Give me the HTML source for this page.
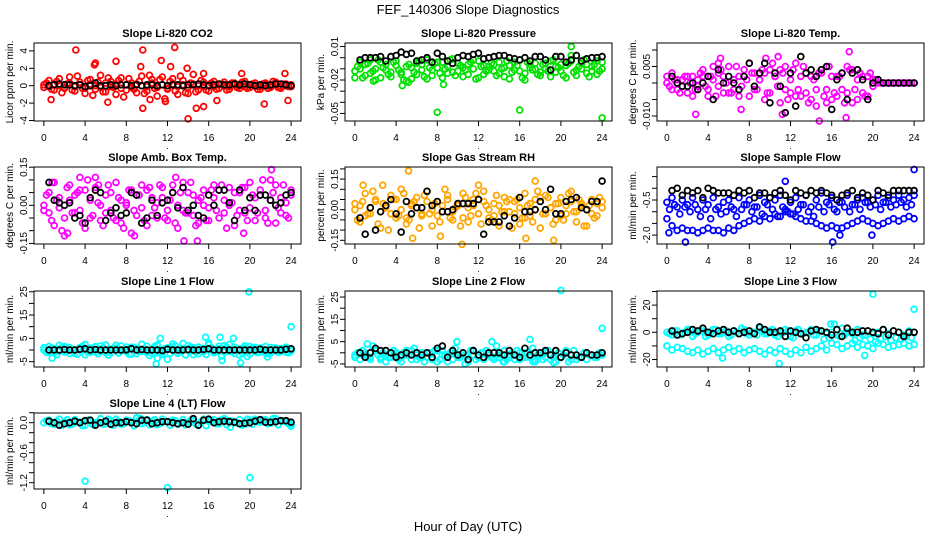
<!DOCTYPE html>
<html><head><meta charset="utf-8"><title>FEF_140306 Slope Diagnostics</title>
<style>
html,body{margin:0;padding:0;background:#fff;}
svg{display:block;font-family:"Liberation Sans",Arial,sans-serif;}
</style></head>
<body>
<svg id="chart" width="936" height="540" viewBox="0 0 936 540">
<text x="468" y="14" text-anchor="middle" font-size="13">FEF_140306  Slope Diagnostics</text>
<text x="468" y="531" text-anchor="middle" font-size="13">Hour of Day (UTC)</text>
</svg>
<script>
// shared hour categories
const hA=[0,0.5,1,1.5,2,2.5,3,3.5,4,4.5,5,5.5,6,6.5,7,7.5,8,8.5,9,9.5,10,10.5,11,11.5,12,12.5,13,13.5,14,14.5,15,15.5,16,16.5,17,17.5,18,18.5,19,19.5,20,20.5,21,21.5,22,22.5,23,23.5,24];
const hB=[0.25,0.75,1.25,1.75,2.25,2.75,3.25,3.75,4.25,4.75,5.25,5.75,6.25,6.75,7.25,7.75,8.25,8.75,9.25,9.75,10.25,10.75,11.25,11.75,12.25,12.75,13.25,13.75,14.25,14.75,15.25,15.75,16.25,16.75,17.25,17.75,18.25,18.75,19.25,19.75,20.25,20.75,21.25,21.75,22.25,22.75,23.25,23.75];
const hK=[0.5,1,1.5,2,2.5,3,3.5,4,4.5,5,5.5,6,6.5,7,7.5,8,8.5,9,9.5,10,10.5,11,11.5,12,12.5,13,13.5,14,14.5,15,15.5,16,16.5,17,17.5,18,18.5,19,19.5,20,20.5,21,21.5,22,22.5,23,23.5,24];
const xTicks=[0,4,8,12,16,20,24];

// Panel 1: CO2
const p1C1=[-0.2,0.6,-0.5,0.8,-0.3,1.0,-0.6,0.4,-0.9,0.7,-0.4,1.2,-0.7,0.5,-1.0,0.9,-0.5,0.3,-0.8,1.1,-0.6,0.7,-1.2,1.0,-0.4,0.8,-1.0,0.6,-0.9,1.3,-0.5,0.4,-0.6,0.5,-0.3,0.4,-0.4,0.3,-0.3,0.5,-0.2,0.3,-0.4,0.3,-0.2,0.4,-0.3,0.2,-0.1];
const p1C2=[0.3,-0.4,0.5,-0.8,0.2,-0.5,1.1,-0.3,0.6,-1.1,0.4,-0.7,0.9,-0.2,0.6,-1.3,0.8,-0.4,0.5,-0.9,1.2,-0.3,0.7,-1.5,0.5,-0.6,1.1,-0.8,0.3,-0.7,0.6,-0.5,0.3,-0.4,0.2,-0.5,0.3,-0.2,0.4,-0.3,0.2,-0.4,0.2,-0.3,0.5,-0.2,0.2,-0.1];
const p1C3=[0.1,-0.1,0.2,0.0,-0.2,0.3,-0.1,0.1,-0.3,0.2,0.0,-0.2,0.3,-0.1,0.2,-0.3,0.1,-0.2,0.2,0.0,-0.1,0.3,-0.2,0.1,-0.3,0.2,-0.1,0.1,-0.2,0.2,0.0,-0.1,0.1,-0.1,0.1,0.0,-0.1,0.1,0.0,-0.1,0.1,0.0,-0.1,0.1,0.0,0.1,-0.1,0.0,0.1];
const p1K=[0.0,0.1,0.2,0.1,0.1,0.0,0.1,-0.1,0.0,0.3,0.0,0.0,0.1,0.0,0.1,0.1,0.0,0.1,0.0,0.1,0.1,0.0,0.1,0.0,0.1,0.1,0.0,0.1,0.1,0.2,0.1,0.0,0.1,0.2,0.1,0.1,0.2,0.1,0.2,0.1,0.0,0.1,0.0,0.1,0.2,0.2,0.1,0.0];
const p1OutH=[3.1,9.6,12.7,7,11.4,4.9,5,9.4,13.9,12.3,0.7,9.6,14,14.8,15.5,16.8,21.4,23.7,6.2,10.3,11.8,23.4,19.2,15.5];
const p1OutV=[4.1,4.1,4.4,2.8,2.9,2.4,2.6,2.2,2.0,2.2,-1.6,-2.6,-3.8,-2.6,-2.4,-1.7,-2.1,-1.7,-1.9,-1.6,-1.8,1.4,1.4,1.4];
const p1YT=[-4,-2,0,2,4];
const p1YL=["-4","-2","0","2","4"];

// Panel 2: Pressure
const p2C1=[-0.012,-0.004,-0.016,-0.002,-0.010,-0.018,-0.006,-0.013,-0.003,-0.015,-0.008,-0.019,-0.005,-0.011,-0.002,-0.016,-0.009,-0.004,-0.014,-0.001,-0.012,-0.017,-0.006,-0.010,-0.003,-0.015,-0.008,-0.012,-0.004,-0.017,-0.007,-0.011,-0.002,-0.014,-0.009,-0.005,-0.016,-0.010,-0.003,-0.013,-0.006,-0.018,0.002,-0.011,-0.005,-0.014,-0.008,-0.003,-0.010];
const p2C2=[-0.008,-0.018,-0.005,-0.012,-0.002,-0.009,-0.015,-0.004,-0.011,-0.020,-0.006,-0.013,-0.003,-0.017,-0.009,-0.005,-0.014,-0.010,-0.002,-0.016,-0.007,-0.011,-0.004,-0.019,-0.008,-0.012,-0.005,-0.016,-0.010,-0.003,-0.013,-0.007,-0.018,-0.004,-0.011,-0.015,-0.006,-0.012,-0.002,-0.009,-0.016,-0.005,-0.013,-0.008,-0.002,-0.017,-0.006,-0.012];
const p2C3=[-0.018,-0.010,-0.006,-0.014,-0.020,-0.004,-0.011,-0.017,-0.007,-0.013,-0.021,-0.009,-0.015,-0.006,-0.019,-0.011,-0.004,-0.018,-0.008,-0.013,-0.005,-0.009,-0.015,-0.002,-0.018,-0.007,-0.011,-0.006,-0.014,-0.009,-0.019,-0.004,-0.012,-0.020,-0.006,-0.010,-0.013,-0.005,-0.017,-0.008,-0.012,-0.007,-0.003,-0.016,-0.010,-0.006,-0.012,-0.015,-0.004];
const p2K=[-0.002,0.000,0.000,0.000,0.001,-0.003,0.001,0.002,0.005,0.003,0.004,-0.003,-0.002,0.000,-0.004,0.004,0.001,-0.003,-0.005,0.000,0.002,0.001,0.003,0.004,-0.001,0.000,0.001,0.002,0.002,0.000,-0.001,-0.002,0.000,-0.003,0.001,0.001,-0.002,-0.011,0.001,0.001,-0.004,-0.002,0.002,-0.003,-0.001,0.000,0.000,0.001];
const p2OutH=[8,16,24,4.6,8.6,21,1.8,5.2];
const p2OutV=[-0.049,-0.047,-0.054,-0.025,-0.024,0.010,-0.021,-0.022];
const p2YT=[0.01,0,-0.01,-0.02,-0.03,-0.04,-0.05];
const p2YL=["0.01","","","-0.02","","","-0.05"];

// Panel 3: Li-820 Temp
const p3C1=[0,0.003,-0.002,0.001,-0.003,0.002,-0.001,0.004,-0.004,0.001,0.003,-0.003,0.005,-0.002,0.002,0.004,-0.004,0.003,0.001,-0.005,0.004,0.002,-0.006,0.005,-0.003,0.006,-0.004,0.003,-0.005,-0.002,0.004,-0.006,0.002,-0.004,0.003,-0.003,0.004,-0.005,0.002,-0.004,0.001,0,0,0,0,0,0,0,0];
const p3C2=[-0.001,0.001,-0.003,0.002,0.000,-0.002,0.003,-0.001,0.002,-0.004,0.004,0.000,-0.003,0.005,-0.001,0.001,0.003,-0.002,0.004,-0.003,0.006,-0.001,0.003,-0.005,0.004,-0.002,0.005,-0.006,0.001,0.003,-0.004,0.005,-0.003,0.002,-0.006,0.004,-0.002,0.003,-0.004,0.003,0.001,0.000,0.000,0.000,0.000,0.000,0.000,0.000];
const p3C3=[0.002,-0.002,0.001,-0.001,0.002,-0.004,0.001,0.002,-0.002,0.005,-0.001,0.002,-0.003,0.001,-0.004,0.002,0.006,-0.002,0.001,0.003,-0.003,0.002,0.004,-0.002,0.001,-0.004,0.002,-0.003,0.002,-0.007,0.003,-0.002,-0.005,0.002,-0.002,0.005,-0.006,0.001,-0.003,0.002,-0.001,0.001,0,0,0,0,0,0,0];
const p3K=[0.002,0,-0.001,-0.001,0,-0.002,0,0.002,-0.005,0.004,0,0.002,0,-0.002,0.002,0.006,-0.001,0.003,0.006,-0.006,0.003,-0.001,-0.009,0.003,-0.007,0.008,0.003,0.004,0.002,0.004,0.005,-0.008,0.001,0.003,-0.005,0.003,0.004,0.001,-0.005,0,0.001,0,0,0,0,0,0,0];
const p3OutH=[2.8,5.2,9.6,10.8,14.8,17.4,17.7,11.2,5.0,7.2];
const p3OutV=[-0.0095,0.0075,0.0075,0.008,-0.0115,-0.0105,0.0095,-0.0095,0.006,-0.008];
const p3YT=[0.01,0.005,0,-0.005,-0.01];
const p3YL=["","0.005","","","-0.010"];

// Panel 4: Amb. Box Temp
const p4C1=[-0.02,0.05,-0.08,0.03,-0.05,0.08,-0.03,0.06,-0.09,0.02,0.07,-0.06,0.04,-0.02,0.09,-0.07,0.01,0.06,-0.04,0.08,-0.08,0.03,-0.05,0.07,-0.02,0.05,-0.09,0.09,-0.03,0.04,-0.07,0.06,-0.01,0.08,-0.05,0.02,0.07,-0.08,0.05,-0.03,0.09,-0.06,0.04,-0.02,0.10,-0.07,0.03,-0.04,0.06];
const p4C2=[0.04,-0.06,0.02,-0.10,0.07,-0.03,0.05,-0.07,0.10,-0.04,0.01,-0.08,0.08,-0.05,0.03,-0.09,0.06,-0.02,0.04,-0.06,0.07,-0.01,0.08,-0.05,0.02,-0.07,0.05,-0.03,0.09,-0.08,0.03,-0.06,0.06,-0.02,0.08,-0.09,0.01,-0.04,0.07,-0.06,0.04,-0.03,0.10,-0.07,0.05,-0.01,0.08,-0.05];
const p4C3=[0.00,-0.03,0.09,-0.01,-0.12,0.02,0.04,-0.02,0.06,-0.05,0.11,0.00,-0.03,0.05,-0.06,0.02,0.00,-0.11,0.04,-0.01,0.06,-0.04,0.01,0.03,-0.06,0.08,0.00,-0.02,0.05,-0.04,0.02,0.00,-0.06,0.03,0.06,-0.03,0.00,0.05,-0.02,0.07,-0.01,0.03,0.06,-0.05,0.02,0.08,-0.03,0.01,0.04];
const p4K=[0.09,0.02,0.01,0.00,0.01,-0.05,-0.04,-0.07,0.03,0.06,0.05,-0.06,-0.03,-0.01,-0.04,-0.03,0.05,0.04,-0.07,-0.05,0.02,-0.04,0.01,0.02,0.05,-0.01,0.07,-0.02,0.00,-0.04,-0.05,0.04,0.00,0.06,0.06,0.01,-0.06,0.06,-0.02,0.03,-0.02,0.04,0.04,0.02,0.00,0.01,0.04,0.05];
const p4OutH=[3.5,13.6,14.9,2.3,8.8,19.4,22.1,0.8,5.3,12.8];
const p4OutV=[0.11,-0.14,-0.14,-0.11,-0.12,-0.11,0.14,0.09,0.08,0.11];
const p4YT=[0.15,0.1,0.05,0,-0.05,-0.1,-0.15];
const p4YL=["0.15","","","0.00","","","-0.15"];

// Panel 5: Gas Stream RH
const p5C1=[0.03,-0.06,0.08,-0.02,0.05,-0.09,0.01,0.07,-0.04,0.10,-0.07,0.02,0.06,-0.03,0.09,-0.08,0.04,-0.01,0.07,-0.05,0.02,0.08,-0.06,0.05,-0.02,0.09,-0.04,0.03,-0.08,0.06,-0.01,0.04,-0.07,0.08,-0.03,0.05,-0.09,0.07,0.01,-0.05,0.06,-0.02,0.09,-0.06,0.03,-0.08,0.05,-0.03,0.04];
const p5C2=[-0.05,0.04,-0.02,0.09,-0.07,0.03,-0.10,0.05,-0.03,0.08,-0.05,0.04,-0.09,0.07,-0.02,0.03,-0.06,0.10,-0.04,0.01,-0.08,0.06,-0.03,0.08,-0.07,0.02,-0.05,0.07,-0.01,0.04,-0.09,0.05,-0.04,0.02,-0.06,0.09,-0.02,0.06,-0.07,0.03,-0.05,0.08,-0.01,0.05,-0.08,0.02,-0.04,0.06];
const p5C3=[0.00,0.02,-0.03,0.01,0.04,-0.01,0.02,-0.02,0.05,0.00,-0.04,0.03,0.01,-0.02,0.04,0.00,-0.03,0.02,0.05,-0.01,0.03,-0.04,0.01,0.02,-0.02,0.04,0.00,-0.03,0.02,-0.01,0.05,-0.02,0.01,-0.04,0.03,0.00,0.06,-0.02,0.01,0.03,-0.03,0.02,0.04,-0.01,0.02,0.00,-0.02,0.03,0.01];
const p5K=[-0.04,-0.12,0.01,-0.10,-0.01,0.02,0.05,-0.02,-0.11,0.04,-0.02,0.01,0.01,0.09,0.02,0.04,-0.01,-0.01,0.00,0.03,0.03,0.03,0.03,0.05,-0.12,-0.06,-0.06,-0.06,-0.03,-0.08,-0.04,0.06,-0.01,-0.01,0.00,0.04,0.00,0.10,-0.02,-0.02,0.04,0.05,0.06,0.01,0.00,0.04,0.04,0.14];
const p5OutH=[5.2,0.8,2.7,10.4,16.6,19.3,12.0,8.3,5.6,17.5];
const p5OutV=[0.19,0.12,0.12,-0.17,-0.14,-0.15,0.12,-0.13,-0.14,0.14];
const p5YT=[0.2,0.15,0.1,0.05,0,-0.05,-0.1,-0.15];
const p5YL=["","0.15","","","0.00","","","-0.15"];

// Panel 6: Sample Flow
const p6C1=[-0.6,-0.4,-0.8,-0.5,-0.7,-0.4,-0.9,-0.5,-0.7,-0.4,-0.8,-0.6,-0.5,-0.9,-0.4,-0.7,-0.5,-0.8,-0.3,-0.6,-0.4,-0.5,-0.3,-0.9,-0.6,-0.4,-0.7,-0.3,-0.8,-0.5,-0.2,-0.6,-0.4,-1.0,-0.6,-0.3,-0.7,-0.5,-0.4,-0.6,-0.5,-0.3,-0.6,-0.4,-0.5,-0.3,-0.5,-0.4,-0.3];
const p6C2=[-0.9,-0.7,-1.1,-0.8,-1.0,-0.7,-1.2,-0.9,-1.3,-0.9,-1.1,-1.0,-0.8,-1.2,-0.9,-0.7,-1.0,-0.8,-1.1,-0.7,-0.9,-1.2,-0.8,-1.0,-1.1,-0.9,-0.7,-1.0,-1.2,-0.8,-1.0,-0.7,-0.9,-0.6,-0.8,-1.0,-0.7,-0.9,-0.6,-0.8,-0.7,-0.9,-0.6,-0.8,-0.7,-0.6,-0.8,-0.7];
const p6C3=[-1.3,-1.6,-1.8,-1.7,-1.8,-1.8,-1.9,-1.8,-1.7,-1.8,-1.8,-1.9,-1.7,-1.8,-1.6,-1.5,-1.4,-1.3,-1.4,-1.2,-1.3,-1.1,-1.2,-1.0,-1.1,-1.2,-1.3,-1.4,-1.4,-1.5,-1.6,-1.7,-1.6,-1.7,-1.7,-1.6,-1.5,-1.4,-1.3,-1.4,-1.5,-1.6,-1.5,-1.4,-1.3,-1.4,-1.3,-1.2,-1.3];
const p6K=[-0.1,0.0,-0.3,-0.1,-0.2,-0.1,-0.4,0.0,-0.1,-0.2,-0.2,-0.2,-0.3,-0.1,-0.2,-0.1,-0.4,-0.2,-0.2,-0.4,-0.2,-0.1,-0.3,-0.5,-0.1,-0.2,-0.3,-0.1,-0.2,-0.1,-0.2,-0.3,-0.5,-0.3,-0.2,-0.1,-0.4,-0.2,-0.3,-0.5,-0.1,-0.2,-0.3,-0.1,-0.1,-0.1,-0.1,-0.1];
const p6OutH=[1.8,16.1,19.9,16.8,24,11.5,0.2];
const p6OutV=[-2.3,-2.3,-2.0,-2.0,0.8,0.3,-1.9];
const p6YT=[0.5,0,-0.5,-1,-1.5,-2];
const p6YL=["","","-0.5","","","-2.0"];

// Panel 7: Line 1 Flow
const p7C1=[0,1.5,-1.2,2,-0.8,1.1,-1.5,0.6,2.3,-1.0,1.4,-0.5,2.1,-1.3,0.8,1.7,-0.7,1.2,-1.6,2.5,-1.1,0.4,1.8,-1.9,0.9,2.6,-1.4,0.7,1.9,-2.0,1.3,-0.6,2.2,-1.2,1.6,-0.9,2.4,-1.5,0.5,1.8,-1.7,1.1,-0.8,1.5,-1.2,0.9,-0.6,1.2,-0.4];
const p7C2=[-1.0,0.8,-2.0,1.2,-0.5,0.3,-1.8,1.6,-0.9,0.5,-1.6,1.0,-2.2,0.7,-1.3,0.2,-1.7,1.1,-0.6,0.4,-2.4,1.5,-1.0,0.6,-1.5,1.9,-0.3,-2.1,1.2,-0.8,0.4,-1.9,1.0,-0.5,-2.6,1.3,-0.7,0.2,-1.4,-2.8,0.8,-1.1,0.3,-1.6,0.6,-1.0,0.5,-1.2];
const p7C3=[1,-1,0.5,-0.5,1.5,-1.5,0,1,-2,0.8,-0.8,1.8,-1.2,0.3,2,-0.3,1.3,-1.8,0.6,-0.6,1.6,-1.4,2.2,-0.9,0.2,1.4,-1.1,2.8,-0.4,1,-1.6,0.7,3,-1,0.4,1.9,-0.7,1.2,-2.2,0.9,1.5,-0.5,0.8,-1.3,1.1,-0.2,0.6,-0.9,0.3];
const p7K=[0,0,0,0.2,0,0,0.3,0.5,0,0.2,0,0,0,0,0,0.1,0.5,0,0.2,0,0,0,-0.2,0.3,0,0,0,0.2,0,0,0.2,0.5,0,0,0,0,0,0,0,0,0,0.3,0,0,0,0,0.3,0.5];
const p7OutH=[19.9,24,10.9,11,19.1,12,0.8,15.7,17.1,17.3,18.4,21.7,11.3];
const p7OutV=[25,10,-6,-3.5,-5.5,-4,-3.5,5.5,5.5,-4.5,5,-3,5];
const p7YT=[25,20,15,10,5,0,-5];
const p7YL=["25","","15","","5","","-5"];

// Panel 8: Line 2 Flow
const p8C1=[-1,-3,0,-2,1,-3,-1,-2,0,-4,-1,1,-3,-2,0,-2,-4,1,-1,-3,-2,0,-4,-1,-2,-3,0,-2,-1,-4,-1,-3,0,-2,-1,-3,0,-2,-1,-4,-2,0,-3,-1,-2,-3,-1,-2,-1];
const p8C2=[0,1,-2,3,-1,0,-2,1,-3,0,-1,2,-2,-4,0,1,-3,-1,0,2,-2,-1,1,-3,0,1,-2,3,-1,-3,0,1,-2,0,2,-1,-3,1,-2,0,-1,-4,1,-2,0,-1,-2,0];
const p8C3=[-2,0,-1,-3,1,-2,-4,0,-1,-2,1,-3,-1,0,-2,-3,1,-1,-4,0,-2,-1,-3,1,-2,0,-1,-3,-2,1,-2,-1,-3,0,-2,-4,-1,0,-3,-1,-2,1,-1,-3,-2,0,-1,-2,-1];
const p8K=[0,-2,0,2,1,1,0,-2,-1,0,-1,0,-1,0,-2,2,3,-2,1,-1,0,-3,1,-1,-2,0,0,0,-1,1,-1,-2,2,-1,0,0,1,-1,1,-2,0,-1,-1,-2,0,-1,-1,0];
const p8OutH=[20,24,1.2,10.7,14.4,17.0,17.3,19.3,13.3,9.9];
const p8OutV=[28,11,4,-5,-4,6,-4,-4.5,5,5];
const p8YT=[25,20,15,10,5,0,-5];
const p8YL=["25","","15","","5","","-5"];

// Panel 9: Line 3 Flow
const p9C1=[0,-2,1,-1,2,-3,0,1,-2,2,-1,0,-3,1,-1,2,-2,0,3,-1,1,-2,0,2,-3,1,-1,0,2,-2,1,-1,0,-2,3,0,-1,2,-2,1,-1,0,2,-1,1,0,-2,1,0];
const p9C2=[-1,1,-2,0,2,-1,1,-3,0,2,-1,1,-2,0,3,-1,0,-2,1,-1,2,-3,0,1,-4,2,-1,0,-2,1,-5,-4,6,-3,-2,0,-6,-4,-2,-5,-7,-5,-3,-6,-4,-5,-3,-4];
const p9C3=[-10,-13,-11,-12,-14,-15,-13,-16,-14,-12,-15,-13,-11,-14,-12,-15,-13,-12,-14,-16,-13,-15,-12,-14,-16,-13,-15,-11,-14,-12,-10,-13,-8,-9,-12,-10,-8,-11,-9,-10,-12,-8,-9,-11,-10,-9,-8,-10,-9];
const p9K=[1,-2,-1,0,2,1,3,0,-1,1,2,0,1,-1,0,1,-1,4,2,0,0,1,-3,1,0,-1,-4,1,2,1,0,-2,2,-3,3,0,0,1,1,0,-1,2,-2,1,0,-3,0,0];
const p9OutH=[20,24,10.9,5.4,19.2,15.9];
const p9OutV=[28,17,-23,-19,-17,6];
const p9YT=[30,20,10,0,-10,-20];
const p9YL=["","20","","0","","-20"];

// Panel 10: Line 4 (LT) Flow
const p10C1=[0.0,0.05,-0.03,0.07,0.02,-0.04,0.06,0.01,-0.05,0.05,0.00,0.08,-0.02,0.04,0.07,-0.03,0.05,0.01,0.09,-0.02,0.06,0.03,-0.04,0.07,0.02,0.05,-0.03,0.06,0.00,0.04,-0.05,0.07,0.03,0.06,-0.02,0.08,0.04,0.00,0.06,-0.03,0.05,0.07,0.01,0.06,-0.01,0.08,0.04,0.02,-0.03];
const p10C2=[0.04,-0.02,0.03,-0.05,0.06,-0.03,0.02,-0.06,0.05,-0.04,0.01,-0.03,0.07,-0.05,0.03,-0.02,0.04,-0.06,0.05,0.00,-0.04,0.06,-0.02,0.03,-0.05,0.04,0.01,-0.04,0.05,-0.03,0.02,-0.06,0.04,-0.02,0.06,-0.04,0.03,0.00,-0.05,0.07,-0.03,0.02,0.05,-0.02,0.08,-0.04,0.03,-0.02];
const p10C3=[];
const p10K=[0.03,0.00,-0.05,-0.02,0.00,0.03,0.00,0.04,0.05,-0.05,0.00,0.03,-0.03,0.00,0.00,0.02,0.00,-0.02,0.05,0.05,-0.02,0.00,0.02,0.02,0.00,-0.02,0.00,-0.03,0.08,-0.05,0.05,0.07,0.00,0.02,0.03,0.02,0.01,-0.02,-0.01,0.00,0.03,0.06,0.01,0.01,0.02,0.04,0.04,0.01];
const p10OutH=[4,12,20,9,18.1,24,9.4];
const p10OutV=[-1.17,-1.3,-1.1,0.1,-0.09,-0.07,0.08];
const p10YT=[0.2,0,-0.2,-0.4,-0.6,-0.8,-1.0,-1.2];
const p10YL=["","0.0","","","-0.6","","","-1.2"];

const NS="http://www.w3.org/2000/svg";
const svg=document.getElementById('chart');
function mk(tag,attrs,parent){const e=document.createElementNS(NS,tag);for(const k in attrs)e.setAttribute(k,attrs[k]);(parent||svg).appendChild(e);return e;}

const panels=[
 {id:'co2',title:'Slope Li-820 CO2',ylab:'Licor ppm per min.',L:34,T:43,B:121,zero:85.7,ppu:8.7,col:'#ff0000',c1:p1C1,c2:p1C2,c3:p1C3,k:p1K,oh:p1OutH,ov:p1OutV,yt:p1YT,yl:p1YL},
 {id:'pressure',title:'Slope Li-820 Pressure',ylab:'kPa per min.',L:345,T:43,B:121,zero:57.7,ppu:1115,col:'#00e000',c1:p2C1,c2:p2C2,c3:p2C3,k:p2K,oh:p2OutH,ov:p2OutV,yt:p2YT,yl:p2YL},
 {id:'li820-temp',title:'Slope Li-820 Temp.',ylab:'degrees C per min.',L:657,T:43,B:121,zero:83,ppu:3300,col:'#ff00ff',c1:p3C1,c2:p3C2,c3:p3C3,k:p3K,oh:p3OutH,ov:p3OutV,yt:p3YT,yl:p3YL},
 {id:'amb-box-temp',title:'Slope Amb. Box Temp.',ylab:'degrees C per min.',L:34,T:167,B:244,zero:205.3,ppu:254,col:'#ff00ff',c1:p4C1,c2:p4C2,c3:p4C3,k:p4K,oh:p4OutH,ov:p4OutV,yt:p4YT,yl:p4YL},
 {id:'gas-stream-rh',title:'Slope Gas Stream RH',ylab:'percent per min.',L:345,T:167,B:244,zero:209.7,ppu:204,col:'#ffa500',c1:p5C1,c2:p5C2,c3:p5C3,k:p5K,oh:p5OutH,ov:p5OutV,yt:p5YT,yl:p5YL},
 {id:'sample-flow',title:'Slope Sample Flow',ylab:'ml/min per min.',L:657,T:167,B:244,zero:188.3,ppu:23.4,col:'#0000ff',c1:p6C1,c2:p6C2,c3:p6C3,k:p6K,oh:p6OutH,ov:p6OutV,yt:p6YT,yl:p6YL},
 {id:'line1-flow',title:'Slope Line 1 Flow',ylab:'ml/min per min.',L:34,T:291,B:367,zero:350,ppu:2.33,col:'#00ffff',c1:p7C1,c2:p7C2,c3:p7C3,k:p7K,oh:p7OutH,ov:p7OutV,yt:p7YT,yl:p7YL},
 {id:'line2-flow',title:'Slope Line 2 Flow',ylab:'ml/min per min.',L:345,T:291,B:367,zero:352.8,ppu:2.23,col:'#00ffff',c1:p8C1,c2:p8C2,c3:p8C3,k:p8K,oh:p8OutH,ov:p8OutV,yt:p8YT,yl:p8YL},
 {id:'line3-flow',title:'Slope Line 3 Flow',ylab:'ml/min per min.',L:657,T:291,B:367,zero:332.3,ppu:1.36,col:'#00ffff',c1:p9C1,c2:p9C2,c3:p9C3,k:p9K,oh:p9OutH,ov:p9OutV,yt:p9YT,yl:p9YL},
 {id:'line4-flow',title:'Slope Line 4 (LT) Flow',ylab:'ml/min per min.',L:34,T:413,B:489,zero:422.7,ppu:50,col:'#00ffff',c1:p10C1,c2:p10C2,c3:p10C3,k:p10K,oh:p10OutH,ov:p10OutV,yt:p10YT,yl:p10YL}
];
const W=267;

panels.forEach(p=>{
  const g=mk('g',{});
  
  
  const xs=h=>p.L+W*(h+0.96)/25.92;
  const ys=v=>p.zero-v*p.ppu;
  const cx=p.L+W/2;
  const t=mk('text',{x:cx,y:p.T-6,'text-anchor':'middle','font-size':'11','font-weight':'bold'},g);
  t.textContent=p.title;
  
  
  const pts=mk('g',{fill:'none','stroke-width':'1.8'},g);
  
  
  function series(hs,vs,color,name){
    const n=Math.min(hs.length,vs.length);
    for(let i=0;i<n;i++){
      const c=mk('circle',{cx:xs(hs[i]).toFixed(1),cy:ys(vs[i]).toFixed(1),r:'2.9',stroke:color},pts);
      
      
    }
  }
  series(hA,p.c1,p.col,'slope-point');
  series(hB,p.c2,p.col,'slope-point');
  series(hA,p.c3,p.col,'slope-point');
  series(p.oh,p.ov,p.col,'outlier-point');
  series(hK,p.k,'#000000','mean-point');
  const r=mk('rect',{x:p.L,y:p.T,width:W,height:p.B-p.T,fill:'none',stroke:'#000','stroke-width':'1'},g);
  
  
  xTicks.forEach(h=>{
    const x=xs(h);
    mk('line',{x1:x,x2:x,y1:p.B,y2:p.B+5,stroke:'#000'},g);
    const tl=mk('text',{x:x,y:p.B+20,'text-anchor':'middle','font-size':'10'},g);
    tl.textContent=String(h);
    
    
  });
  const dot=mk('text',{x:cx,y:p.B+28,'text-anchor':'middle','font-size':'9'},g);
  dot.textContent='.';
  p.yt.forEach((v,i)=>{
    const y=ys(v);
    mk('line',{x1:p.L-5,x2:p.L,y1:y,y2:y,stroke:'#000'},g);
    if(p.yl[i]){
      const yl=mk('text',{x:p.L-7,y:y,'text-anchor':'middle','font-size':'10',transform:`rotate(-90 ${p.L-7} ${y})`},g);
      yl.textContent=p.yl[i];
      
      
    }
  });
  const yc=(p.T+p.B)/2;
  const ya=mk('text',{x:p.L-21,y:yc,'text-anchor':'middle','font-size':'10',transform:`rotate(-90 ${p.L-21} ${yc})`},g);
  ya.textContent=p.ylab;
  
  
});
</script>
</body></html>
